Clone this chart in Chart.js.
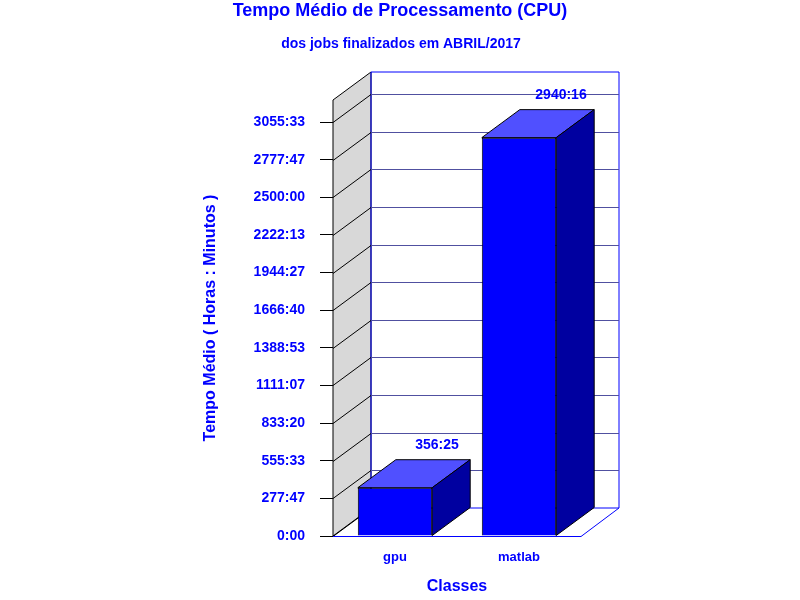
<!DOCTYPE html>
<html><head><meta charset="utf-8">
<script src="https://cdn.jsdelivr.net/npm/chart.js@4"></script>
<style>body{margin:0;background:#fff}#wrap{width:800px;height:600px}</style>
</head><body><div id="wrap"><canvas id="c"></canvas></div>
<script>
// data (hours)
var categories = ['gpu', 'matlab'];
var values = [356 + 25 / 60, 2940 + 16 / 60];
var valueLabels = ['356:25', '2940:16'];
var tickLabels = ['0:00', '277:47', '555:33', '833:20', '1111:07', '1388:53', '1666:40', '1944:27', '2222:13', '2500:00', '2777:47', '3055:33'];

var tickValues = tickLabels.map(function (t) { var p = t.split(':'); return +p[0] + p[1] / 60; });
var DX = 38, DY = -28;
var blue = '#0000FF';
var FONT = 'Arial, "Liberation Sans"';

function poly(ctx, pts, fill, stroke) {
  ctx.beginPath();
  ctx.moveTo(pts[0][0], pts[0][1]);
  for (var i = 1; i < pts.length; i++) ctx.lineTo(pts[i][0], pts[i][1]);
  ctx.closePath();
  if (fill) { ctx.fillStyle = fill; ctx.fill(); }
  if (stroke) { ctx.strokeStyle = stroke; ctx.lineWidth = 1; ctx.stroke(); }
}

var box3d = {
  id: 'box3d',
  beforeDatasetsDraw: function (chart) {
    var ctx = chart.ctx, a = chart.chartArea, y = chart.scales.y;
    ctx.save();
    // left wall
    poly(ctx, [[a.left, a.bottom], [a.left + DX, a.bottom + DY], [a.left + DX, a.top + DY], [a.left, a.top]], '#d8d8d8', '#000');
    // back wall outline
    poly(ctx, [[a.left + DX, a.bottom + DY], [a.right + DX, a.bottom + DY], [a.right + DX, a.top + DY], [a.left + DX, a.top + DY]], null, blue);
    // grid lines
    tickValues.forEach(function (v) {
      var py = Math.round(y.getPixelForValue(v)) + 0.5;
      ctx.strokeStyle = '#000';
      ctx.beginPath();
      ctx.moveTo(a.left, py);
      ctx.lineTo(a.left + DX, py + DY);
      ctx.stroke();
      if (v > 0) {
        ctx.strokeStyle = '#5050a0';
        ctx.beginPath();
        ctx.moveTo(a.left + DX, py + DY);
        ctx.lineTo(a.right + DX, py + DY);
        ctx.stroke();
      }
    });
    // floor
    ctx.strokeStyle = blue;
    ctx.beginPath();
    ctx.moveTo(a.left, a.bottom + 0.5);
    ctx.lineTo(a.right, a.bottom + 0.5);
    ctx.lineTo(a.right + DX, a.bottom + DY);
    ctx.stroke();
    ctx.restore();
  },
  afterDatasetsDraw: function (chart) {
    var ctx = chart.ctx;
    ctx.save();
    chart.getDatasetMeta(0).data.forEach(function (bar, i) {
      var l = bar.x - bar.width / 2, r = bar.x + bar.width / 2, t = bar.y, b = bar.base;
      poly(ctx, [[l, t], [r, t], [r + DX, t + DY], [l + DX, t + DY]], '#5050FF', '#000');
      poly(ctx, [[r, t], [r + DX, t + DY], [r + DX, b + DY], [r, b]], '#0000A0', '#000');
      ctx.fillStyle = blue;
      ctx.font = 'bold 14px ' + FONT;
      ctx.textAlign = 'center';
      ctx.fillText(valueLabels[i], bar.x + 42, t + DY - 11);
    });
    ctx.restore();
  },
  afterDraw: function (chart) {
    var ctx = chart.ctx;
    ctx.save();
    ctx.fillStyle = blue;
    ctx.textAlign = 'center';
    ctx.textBaseline = 'middle';
    ctx.font = 'bold 18px ' + FONT;
    ctx.fillText('Tempo Médio de Processamento (CPU)', 400, 11);
    ctx.font = 'bold 14px ' + FONT;
    ctx.fillText('dos jobs finalizados em ABRIL/2017', 401, 44);
    ctx.restore();
  }
};

var ctx = document.getElementById('c').getContext('2d');
var chart = new Chart(ctx, {
  type: 'bar',
  data: {
    labels: categories,
    datasets: [{
      data: values,
      backgroundColor: blue,
      borderColor: '#000',
      borderWidth: 1,
      barPercentage: 0.6,
      categoryPercentage: 1
    }]
  },
  options: {
    responsive: true,
    maintainAspectRatio: false,
    animation: false,
    layout: { padding: { left: 197, right: 219, top: 100, bottom: 0 } },
    scales: {
      x: {
        grid: { display: false },
        border: { display: false },
        ticks: { color: blue, font: { family: FONT, size: 13, weight: 'bold' }, padding: 6 },
        title: { display: true, text: 'Classes', color: blue, font: { family: FONT, size: 16, weight: 'bold' }, padding: { top: 4 } },
        afterFit: function (s) { s.height = 64; }
      },
      y: {
        min: 0,
        max: 3218,
        afterBuildTicks: function (s) { s.ticks = tickValues.map(function (v) { return { value: v }; }); },
        grid: { drawOnChartArea: false, tickLength: 13, color: '#000' },
        border: { display: false },
        ticks: {
          color: blue,
          font: { family: FONT, size: 14, weight: 'bold' },
          padding: 15,
          callback: function (v, i) { return tickLabels[i]; }
        },
        title: { display: true, text: 'Tempo Médio ( Horas : Minutos )', color: blue, font: { family: FONT, size: 16, weight: 'bold' }, padding: { bottom: 10 } },
        afterFit: function (s) { s.width = 333 - 197; }
      }
    },
    plugins: {
      legend: { display: false },
      tooltip: { enabled: false },
      title: { display: false },
      subtitle: { display: false }
    }
  },
  plugins: [box3d]
});
</script>
</body></html>
